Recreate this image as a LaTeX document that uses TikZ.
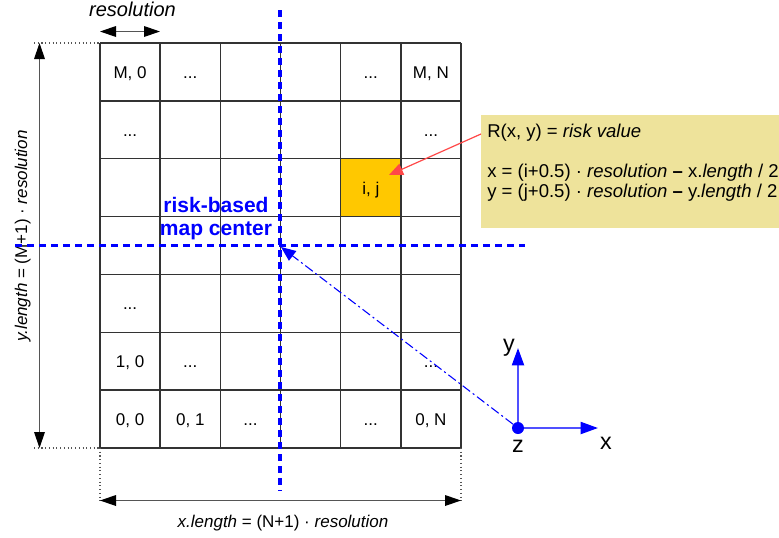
\documentclass[tikz,border=0pt]{standalone}
\usepackage{fontspec}
\setmainfont{Liberation Sans}
\usetikzlibrary{arrows.meta}
\definecolor{gridc}{HTML}{333333}
\definecolor{cellY}{HTML}{FFC800}
\definecolor{boxY}{HTML}{EEE39B}
\definecolor{myblue}{HTML}{0000FF}
\definecolor{axisblue}{HTML}{5050FF}
\definecolor{myred}{HTML}{FF4848}
\definecolor{dimgray}{HTML}{555555}
\begin{document}
\begin{tikzpicture}[x=0.75pt,y=-0.75pt,
  txt/.style={font=\fontsize{12.75}{15}\selectfont, inner sep=0pt},
  boxtxt/.style={font=\fontsize{13.9}{16}\selectfont, inner sep=0pt, anchor=base west},
  celltxt/.style={txt, anchor=base},
  gridline/.style={draw=gridc, line width=1.1pt},
  dimline/.style={draw=dimgray, line width=0.9pt, {Triangle[length=12pt,width=8pt,color=black]}-{Triangle[length=12pt,width=8pt,color=black]}},
  dotline/.style={draw=dimgray, line width=0.8pt, dotted},
  centerline/.style={draw=myblue, line width=2.3pt, dash pattern=on 5.25pt off 3.75pt},
  dashdotline/.style={draw=myblue, line width=0.8pt, dash pattern=on 7pt off 2.5pt on 1.5pt off 2.5pt, -{Triangle[length=11pt,width=9pt,color=myblue]}},
  axisline/.style={draw=axisblue, line width=1.5pt, -{Triangle[length=13pt,width=9pt,color=myblue]}},
  redarrow/.style={draw=myred, line width=0.9pt, -{Triangle[length=10.5pt,width=9pt,color=myred]}},
  axlabel/.style={font=\fontsize{17.5}{20}\selectfont, inner sep=0pt, anchor=base},
  bluelabel/.style={font=\fontsize{15.75}{18}\selectfont\bfseries, text=myblue, inner sep=0pt, anchor=base},
]
\useasboundingbox (0,0) rectangle (779,537);

% highlighted cell
\fill[cellY] (340.68,158.72) rectangle (400.85,216.58);
% grid
\foreach \i in {0,...,6} \draw[gridline] ({100+\i*60.17},43) -- ({100+\i*60.17},448);
\foreach \j in {0,...,7} \draw[gridline] (100,{43+\j*57.86}) -- (461,{43+\j*57.86});

% cell texts
\node[celltxt] (m0) at (130.1,78.2) {M, 0};
\node[celltxt] (m1) at (190.3,78.2) {...};
\node[celltxt] (m4) at (370.8,78.2) {...};
\node[celltxt] (mn) at (430.9,78.2) {M, N};
\node[celltxt] (d10) at (130.1,136.1) {...};
\node[celltxt] (d15) at (430.9,136.1) {...};
\node[celltxt] (ij) at (370.8,194.0) {i, j};
\node[celltxt] (d40) at (130.1,309.7) {...};
\node[celltxt] (c10) at (130.1,367.5) {1, 0};
\node[celltxt] (d51) at (190.3,367.5) {...};
\node[celltxt] (d55) at (430.9,367.5) {...};
\node[celltxt] (c00) at (130.1,425.4) {0, 0};
\node[celltxt] (c01) at (190.3,425.4) {0, 1};
\node[celltxt] (d62) at (250.4,425.4) {...};
\node[celltxt] (d64) at (370.8,425.4) {...};
\node[celltxt] (c0n) at (430.9,425.4) {0, N};

% resolution dimension
\coordinate (rA) at (100,31.5);
\coordinate (rB) at (160,31.5);
\draw[dimline] (rA) -- (rB);
\node[font=\fontsize{15}{17}\selectfont\itshape, inner sep=0pt, anchor=base] (reslab) at (132.5,16) {resolution};

% y dimension
\coordinate (lT) at (39.5,43);
\coordinate (lB) at (39.5,448);
\coordinate (dTL) at (34,43);
\coordinate (gTL) at (100,43);
\coordinate (dBL) at (34,448);
\coordinate (gBL) at (100,448);
\draw[dotline] (dTL) -- (gTL);
\draw[dotline] (dBL) -- (gBL);
\draw[dimline] (lT) -- (lB);
\node[txt, rotate=90, anchor=base] (ylab) at (27,236) {\textit{y.length} = (M+1) · \textit{resolution}};

% x dimension
\coordinate (gBR) at (461,448);
\coordinate (bL) at (100,500.5);
\coordinate (bR) at (461,500.5);
\draw[dotline] (gBL) -- (bL);
\draw[dotline] (gBR) -- (bR);
\draw[dimline] (bL) -- (bR);
\node[txt, anchor=base] (xlab) at (283,527) {\textit{x.length} = (N+1) · \textit{resolution}};

% center lines
\coordinate (vT) at (280,10);
\coordinate (vB) at (280,491);
\coordinate (hL) at (15,245.5);
\coordinate (hR) at (525,245.5);
\coordinate (mc) at (281,247);
\draw[centerline] (vT) -- (vB);
\draw[centerline] (hL) -- (hR);
\node[bluelabel] (rb1) at (216,212) {risk-based};
\node[bluelabel] (rb2) at (216,235) {map center};

% info box
\node[fill=boxY, inner sep=0pt, minimum width=223.5pt, minimum height=84.75pt, anchor=north west] (box) at (481,115) {};
\node[boxtxt] (t1) at (487,137) {R(x, y) = \textit{risk value}};
\node[boxtxt] (t2) at (487,177) {x = (i+0.5) · \textit{resolution} \textbf{–} x.\textit{length} / 2};
\node[boxtxt] (t3) at (487,197) {y = (j+0.5) · \textit{resolution} \textbf{–} y.\textit{length} / 2};
\coordinate (redstart) at (481,134);
\coordinate (ijtip) at (389,175);
\draw[redarrow] (redstart) -- (ijtip);

% coordinate frame
\coordinate (Oc) at (518,428);
\coordinate (yT) at (518,348);
\coordinate (xT) at (598,428);
\draw[axisline] (Oc) -- (yT);
\draw[axisline] (Oc) -- (xT);
\node[circle, fill=myblue, inner sep=0pt, minimum size=9pt] (O) at (Oc) {};
\draw[dashdotline] (O) -- (mc);
\node[axlabel] (ylbl) at (509,351) {y};
\node[axlabel] (xlbl) at (606,449) {x};
\node[axlabel] (zlbl) at (518,452) {z};
\end{tikzpicture}
\end{document}
